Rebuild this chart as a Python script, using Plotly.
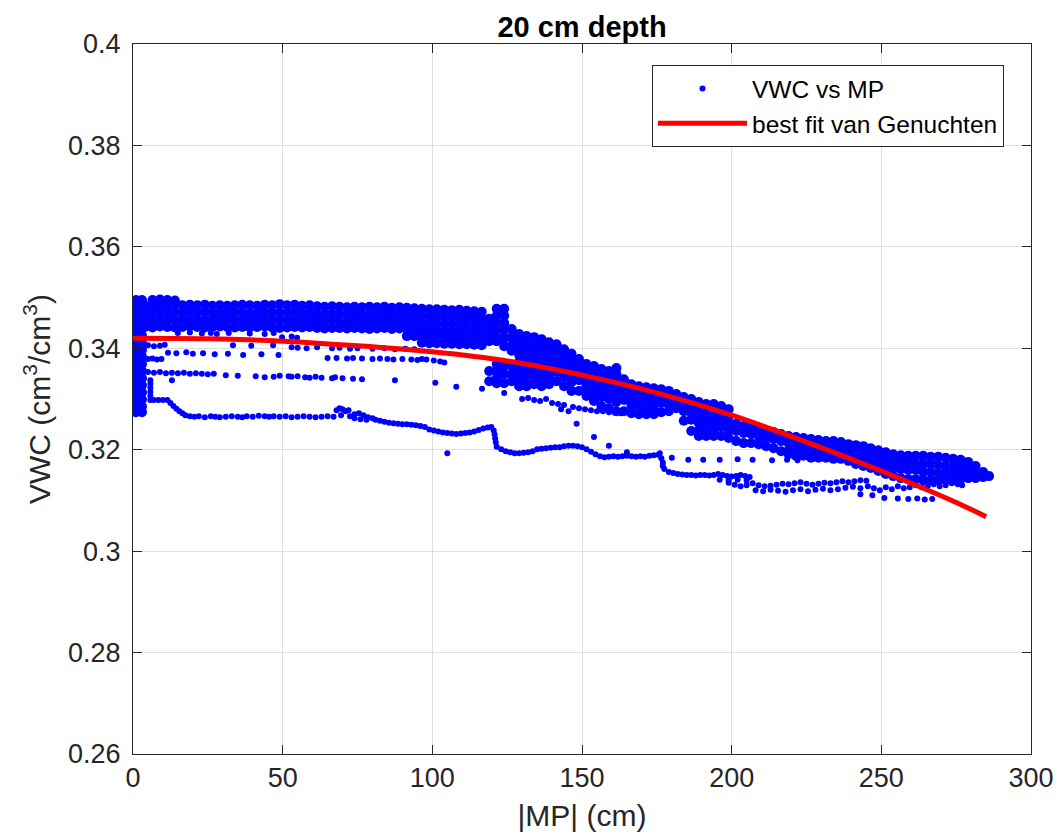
import plotly.graph_objects as go

# ---------------- data ----------------
# fitted van Genuchten curve (x = |MP| cm, y = VWC)
fit_x = [0, 25, 50, 75, 100, 125, 150, 175, 200, 225, 250, 275, 285]
fit_y = [0.3420, 0.3419, 0.3414, 0.3405, 0.3393, 0.3375, 0.3347, 0.3312,
         0.3268, 0.3215, 0.3158, 0.3096, 0.3068]

# dense clusters of measurements: (MP, [VWC values at that MP])
bar_cols = [
    (1, [0.3495, 0.3481, 0.3467, 0.3453, 0.3439, 0.3425, 0.3411, 0.3397, 0.3383,
         0.3369, 0.3355, 0.3341, 0.3327, 0.3313, 0.3299, 0.3285, 0.3274]),
    (3, [0.3495, 0.3481, 0.3467, 0.3453, 0.3439, 0.3425, 0.3411, 0.3397, 0.3383,
         0.3369, 0.3355, 0.3341, 0.3327, 0.3313, 0.3299, 0.3285, 0.3274]),
]
top_cols = [
    (6.5, [0.3495]), (9, [0.3496]), (11.5, [0.3495]), (14, [0.3494]),
]
band_cols = [
    (4, [0.3484, 0.3470, 0.3456, 0.3442]),
    (6.5, [0.3483, 0.3469, 0.3455, 0.3441]),
    (9, [0.3485, 0.3471, 0.3456, 0.3443]),
    (11.5, [0.3484, 0.3470, 0.3457, 0.3442]),
    (14, [0.3486, 0.3471, 0.3456, 0.3441]),
    (16.5, [0.3485, 0.3470, 0.3455, 0.3442]),
    (19, [0.3486, 0.3472, 0.3457, 0.3443]),
    (21.5, [0.3485, 0.3470, 0.3456, 0.3442]),
    (24, [0.3486, 0.3471, 0.3455, 0.3441]),
    (26.5, [0.3484, 0.3469, 0.3456, 0.3442]),
    (29, [0.3485, 0.3470, 0.3456, 0.3443]),
    (31.5, [0.3484, 0.3471, 0.3457, 0.3442]),
    (34, [0.3485, 0.3470, 0.3455, 0.3441]),
    (36.5, [0.3486, 0.3471, 0.3456, 0.3442]),
    (39, [0.3485, 0.3469, 0.3455, 0.3441]),
    (41.5, [0.3484, 0.3470, 0.3456, 0.3442]),
    (44, [0.3486, 0.3471, 0.3457, 0.3443]),
    (46.5, [0.3485, 0.3470, 0.3455, 0.3441]),
    (49, [0.3487, 0.3471, 0.3456, 0.3440]),
    (51.5, [0.3485, 0.3470, 0.3455, 0.3441]),
    (54, [0.3486, 0.3471, 0.3456, 0.3442]),
    (56.5, [0.3484, 0.3469, 0.3455, 0.3441]),
    (59, [0.3485, 0.3470, 0.3456, 0.3442]),
    (61.5, [0.3483, 0.3468, 0.3454, 0.3440]),
    (64, [0.3482, 0.3467, 0.3453, 0.3439]),
    (66.5, [0.3483, 0.3468, 0.3454, 0.3440]),
    (69, [0.3482, 0.3467, 0.3453, 0.3440]),
    (71.5, [0.3481, 0.3467, 0.3452, 0.3439]),
    (74, [0.3482, 0.3468, 0.3454, 0.3440]),
    (76.5, [0.3481, 0.3466, 0.3453, 0.3439]),
    (79, [0.3482, 0.3467, 0.3452, 0.3438]),
    (81.5, [0.3481, 0.3467, 0.3453, 0.3439]),
    (84, [0.3482, 0.3468, 0.3454, 0.3440]),
    (86.5, [0.3480, 0.3466, 0.3452, 0.3438]),
    (89, [0.3481, 0.3467, 0.3453, 0.3439]),
    (91.5, [0.3480, 0.3466, 0.3452, 0.3438, 0.3424]),
    (94, [0.3479, 0.3465, 0.3451, 0.3437, 0.3424]),
    (96.5, [0.3478, 0.3464, 0.3450, 0.3436, 0.3423, 0.3411]),
    (99, [0.3477, 0.3463, 0.3449, 0.3436, 0.3423, 0.3410]),
    (101.5, [0.3477, 0.3463, 0.3449, 0.3435, 0.3422, 0.3410]),
    (104, [0.3476, 0.3462, 0.3448, 0.3435, 0.3422, 0.3409]),
    (106.5, [0.3475, 0.3462, 0.3448, 0.3434, 0.3421, 0.3409]),
    (109, [0.3476, 0.3461, 0.3447, 0.3434, 0.3421, 0.3408]),
    (111.5, [0.3474, 0.3461, 0.3447, 0.3433, 0.3420, 0.3408]),
    (114, [0.3473, 0.3460, 0.3446, 0.3433, 0.3420, 0.3407]),
    (116.5, [0.3472, 0.3459, 0.3446, 0.3432, 0.3419, 0.3406]),
]
cloud_cols = [
    (119, [0.3458, 0.3444, 0.3430, 0.3414, 0.3355, 0.3335]),
    (121.5, [0.3478, 0.3464, 0.3450, 0.3436, 0.3422, 0.3414, 0.3369, 0.3355, 0.3341, 0.3331]),
    (124, [0.3478, 0.3464, 0.3450, 0.3436, 0.3420, 0.3404, 0.3365, 0.3349, 0.3331]),
    (126.5, [0.3438, 0.3422, 0.3406, 0.3395, 0.3365, 0.3349, 0.3335]),
    (129, [0.3428, 0.3414, 0.3400, 0.3387, 0.3373, 0.3359, 0.3345, 0.3331, 0.3325]),
    (131.5, [0.3424, 0.3410, 0.3397, 0.3383, 0.3369, 0.3355, 0.3341, 0.3325]),
    (134, [0.3422, 0.3408, 0.3395, 0.3381, 0.3367, 0.3353, 0.3339, 0.3329]),
    (136.5, [0.3418, 0.3404, 0.3391, 0.3377, 0.3363, 0.3349, 0.3335, 0.3325]),
    (139, [0.3412, 0.3398, 0.3385, 0.3371, 0.3357, 0.3343, 0.3329]),
    (141.5, [0.3408, 0.3395, 0.3381, 0.3367, 0.3353, 0.3335]),
    (144, [0.3398, 0.3385, 0.3371, 0.3357, 0.3343, 0.3325]),
    (146.5, [0.3389, 0.3375, 0.3361, 0.3347, 0.3333, 0.3316]),
    (149, [0.3379, 0.3365, 0.3351, 0.3337, 0.3316]),
    (151.5, [0.3369, 0.3355, 0.3341, 0.3327, 0.3314, 0.3306]),
    (154, [0.3365, 0.3351, 0.3337, 0.3323, 0.3310, 0.3296]),
    (156.5, [0.3359, 0.3345, 0.3331, 0.3318, 0.3304, 0.3286]),
    (159, [0.3355, 0.3341, 0.3327, 0.3314, 0.3300, 0.3282]),
    (161.5, [0.3361, 0.3349, 0.3335, 0.3321, 0.3308, 0.3294, 0.3276]),
    (164, [0.3339, 0.3325, 0.3312, 0.3298, 0.3276]),
    (166.5, [0.3329, 0.3316, 0.3302, 0.3288, 0.3272]),
    (169, [0.3325, 0.3312, 0.3298, 0.3284, 0.3270]),
    (171.5, [0.3323, 0.3310, 0.3296, 0.3282, 0.3270]),
    (174, [0.3321, 0.3308, 0.3294, 0.3280, 0.3270]),
    (176.5, [0.3319, 0.3306, 0.3292, 0.3274]),
    (179, [0.3316, 0.3302, 0.3288, 0.3276]),
    (181.5, [0.3310, 0.3296, 0.3282]),
    (184, [0.3304, 0.3290, 0.3276, 0.3257]),
    (186.5, [0.3300, 0.3286, 0.3272, 0.3259, 0.3237]),
    (189, [0.3294, 0.3280, 0.3266, 0.3253, 0.3239, 0.3227]),
    (191.5, [0.3290, 0.3276, 0.3262, 0.3249, 0.3235, 0.3227]),
    (194, [0.3290, 0.3276, 0.3262, 0.3249, 0.3235, 0.3227]),
    (196.5, [0.3286, 0.3272, 0.3259, 0.3245, 0.3227]),
    (199, [0.3280, 0.3266, 0.3253, 0.3239, 0.3223]),
]
right_cols = [
    (201.5, [0.3251, 0.3237, 0.3217]),
    (204, [0.3247, 0.3233, 0.3213]),
    (206.5, [0.3245, 0.3231, 0.3213]),
    (209, [0.3241, 0.3227, 0.3211]),
    (211.5, [0.3237, 0.3223, 0.3207]),
    (214, [0.3235, 0.3221, 0.3203]),
    (216.5, [0.3231, 0.3217, 0.3197]),
    (219, [0.3227, 0.3213, 0.3199, 0.3191]),
    (221.5, [0.3225, 0.3211, 0.3197, 0.3188]),
    (224, [0.3223, 0.3209, 0.3195, 0.3188]),
    (226.5, [0.3221, 0.3207, 0.3193, 0.3184]),
    (229, [0.3219, 0.3205, 0.3191, 0.3184]),
    (231.5, [0.3217, 0.3203, 0.3189, 0.3184]),
    (234, [0.3217, 0.3203, 0.3189, 0.3182]),
    (236.5, [0.3215, 0.3201, 0.3188, 0.3182]),
    (239, [0.3211, 0.3197, 0.3184, 0.3178]),
    (241.5, [0.3209, 0.3195, 0.3182, 0.3172]),
    (244, [0.3207, 0.3193, 0.3180, 0.3168]),
    (246.5, [0.3203, 0.3189, 0.3176, 0.3164]),
    (249, [0.3199, 0.3186, 0.3172, 0.3158]),
    (251.5, [0.3195, 0.3182, 0.3168, 0.3152]),
    (254, [0.3191, 0.3178, 0.3164, 0.3148]),
    (256.5, [0.3189, 0.3176, 0.3162, 0.3144]),
    (259, [0.3188, 0.3174, 0.3160, 0.3142]),
    (261.5, [0.3188, 0.3174, 0.3160, 0.3142]),
    (264, [0.3188, 0.3172, 0.3156, 0.3140]),
    (266.5, [0.3186, 0.3172, 0.3156, 0.3140]),
    (269, [0.3186, 0.3170, 0.3154, 0.3140]),
    (271.5, [0.3184, 0.3168, 0.3154, 0.3140]),
    (274, [0.3182, 0.3168, 0.3154, 0.3140]),
    (276.5, [0.3180, 0.3166, 0.3152, 0.3142]),
    (279, [0.3176, 0.3160, 0.3144]),
    (281.5, [0.3168, 0.3152, 0.3144]),
    (284, [0.3156, 0.3146]),
    (286, [0.3148]),
]

# sparse rows of single measurements: (MP, VWC)
row_343 = [(15, 0.3430), (19, 0.3431), (23, 0.3429), (26, 0.3430), (28, 0.3428),
           (32, 0.3430), (39, 0.3429), (44, 0.3428), (47, 0.3430), (49.8, 0.3422),
           (53, 0.3423), (54.8, 0.3421)]
row_340 = [(5, 0.3406), (7, 0.3404), (9, 0.3405), (10.6, 0.3407), (11.7, 0.3391),
           (14.5, 0.3390), (17.8, 0.3392), (20, 0.3389), (23.4, 0.3390), (27.3, 0.3388),
           (31.7, 0.3389), (36.8, 0.3387), (42.9, 0.3388), (33.4, 0.3406), (39.5, 0.3405),
           (46.8, 0.3406), (48.6, 0.3387), (53, 0.3402), (55, 0.3401), (58, 0.3400),
           (61.5, 0.3402), (66.5, 0.3400), (69, 0.3401), (72.5, 0.3399), (75, 0.3400),
           (80, 0.3399), (84, 0.3400), (87.5, 0.3398), (91, 0.3399), (94, 0.3398)]
row_338 = [(5, 0.3379), (6.5, 0.3380), (8, 0.3378), (9.5, 0.3379),
           (65, 0.3381), (68, 0.3381), (71.5, 0.3380), (73.5, 0.3381), (76.5, 0.3380),
           (80, 0.3379), (82.5, 0.3380), (85, 0.3379), (87, 0.3378), (90, 0.3379),
           (93, 0.3378), (95, 0.3377), (96.5, 0.3379), (98, 0.3378), (100.5, 0.3376),
           (102.6, 0.3374), (104, 0.3372)]
row_335 = [(5, 0.3353), (7, 0.3352), (9, 0.3353), (11, 0.3351), (13, 0.3352),
           (13, 0.3337), (15, 0.3351), (17, 0.3352), (19, 0.3350), (21, 0.3351),
           (23, 0.3350), (25, 0.3349), (27, 0.3350), (31, 0.3347), (35, 0.3346),
           (41, 0.3345), (44, 0.3343), (47, 0.3344), (49, 0.3346), (52, 0.3345),
           (53, 0.3344), (55, 0.3345), (57.5, 0.3343), (59, 0.3342), (61, 0.3344),
           (63, 0.3342), (66.5, 0.3341), (67.5, 0.3343), (70, 0.3341), (73.5, 0.3340),
           (76.5, 0.3339), (87.5, 0.3337)]
isolated = [(101, 0.3332), (108, 0.3324), (116.6, 0.3320), (124, 0.3312),
            (105, 0.3193), (148.2, 0.3251), (154, 0.3225), (159, 0.3208), (165, 0.3195)]
track_mid = [(130, 0.3300), (132, 0.3302), (134, 0.3298), (136, 0.3296), (138, 0.3300),
             (140, 0.3292), (142, 0.3290), (143, 0.3280), (144, 0.3288), (145.5, 0.3276),
             (147, 0.3284), (149, 0.3282), (151, 0.3280), (153, 0.3278), (155, 0.3276),
             (157, 0.3276), (159, 0.3274), (161, 0.3273), (163, 0.3272)]
track_low = [
    (5.8, 0.3337), (5.8, 0.3330), (5.8, 0.3322), (5.8, 0.3314), (5.8, 0.3306), (5.8, 0.3298),
    (7, 0.3298), (8.5, 0.3298), (10, 0.3298), (11.5, 0.3298),
    (12.5, 0.3292), (13.5, 0.3286), (14.5, 0.3281), (15.5, 0.3276), (16.5, 0.3272), (17.5, 0.3268),
    (19, 0.3266), (20.5, 0.3265), (22, 0.3266), (24, 0.3264), (26, 0.3266), (27.5, 0.3265),
    (29, 0.3264), (31, 0.3265), (33, 0.3266), (35, 0.3265), (36.5, 0.3264), (38, 0.3266),
    (40, 0.3265), (42, 0.3267), (44, 0.3266), (45.5, 0.3265), (47, 0.3266),
    (49, 0.3265), (51, 0.3266), (53, 0.3264), (55, 0.3265), (57, 0.3266), (59, 0.3265),
    (61, 0.3264), (63, 0.3265), (65, 0.3266), (67, 0.3265),
    (68, 0.3278), (69, 0.3282), (70, 0.3280), (71, 0.3276), (72, 0.3278), (69.5, 0.3268),
    (72.5, 0.3266), (74, 0.3270), (75.5, 0.3272), (77, 0.3268), (78.5, 0.3264), (80, 0.3262),
    (74, 0.3262), (76, 0.3260), (78, 0.3259), (81, 0.3259),
    (82.5, 0.3257), (84, 0.3255), (85.5, 0.3253), (87, 0.3252), (88.5, 0.3251), (90, 0.3250),
    (91.5, 0.3250), (93, 0.3249), (94.5, 0.3248), (96, 0.3247), (97.5, 0.3245),
    (99, 0.3240), (100.5, 0.3238), (102, 0.3236), (103.5, 0.3234), (105, 0.3233),
    (106.5, 0.3232), (108, 0.3231), (109.5, 0.3232), (111, 0.3233), (112.5, 0.3234),
    (114, 0.3236), (115.5, 0.3239), (117, 0.3242), (118.5, 0.3244), (119.7, 0.3245),
    (120.5, 0.3238), (120.8, 0.3230), (121, 0.3222), (121.2, 0.3214), (121.5, 0.3206),
    (123, 0.3201), (124.5, 0.3197), (126, 0.3195), (127.5, 0.3193), (129, 0.3193),
    (130.5, 0.3194), (132, 0.3195), (133.5, 0.3197),
    (135, 0.3201), (136.5, 0.3202), (138, 0.3203), (139.5, 0.3204), (141, 0.3205),
    (142.5, 0.3205), (144, 0.3207), (145.5, 0.3208), (147, 0.3208), (148.5, 0.3207), (150, 0.3205),
    (151.5, 0.3201), (153, 0.3196), (154.5, 0.3191), (156, 0.3187), (157.5, 0.3185),
    (159, 0.3186), (160.5, 0.3187), (162, 0.3186), (163.5, 0.3187), (165, 0.3188),
    (166.5, 0.3187), (168, 0.3186), (169.5, 0.3187), (171, 0.3186), (172.5, 0.3188),
    (174, 0.3189), (175.5, 0.3190),
    (176, 0.3193), (176.5, 0.3183), (177, 0.3175), (177, 0.3168), (177.5, 0.3162),
    (179, 0.3156), (180.5, 0.3154), (182, 0.3152), (183.5, 0.3151), (185, 0.3150),
    (186.5, 0.3150), (188, 0.3149), (189.5, 0.3150), (191, 0.3150), (192.5, 0.3149), (194, 0.3150),
    (195.5, 0.3152), (197, 0.3150), (198.5, 0.3148), (200, 0.3147), (201.5, 0.3148),
    (203, 0.3150), (204.5, 0.3148), (206, 0.3146),
    (196, 0.3141), (199, 0.3140), (202, 0.3141), (205, 0.3139),
]
row_318 = [(180, 0.3184), (185.5, 0.3180), (190.5, 0.3180), (196, 0.3180), (202, 0.3181),
           (207, 0.3180), (213.5, 0.3179), (218.5, 0.3180), (222, 0.3179)]
low_right = [
    (199, 0.3135), (201, 0.3131), (203, 0.3128), (205, 0.3130),
    (207, 0.3134), (209, 0.3130), (211, 0.3128), (213, 0.3129), (215, 0.3131), (217, 0.3133),
    (219, 0.3132), (221, 0.3134), (223, 0.3136), (225, 0.3133), (227, 0.3131), (229, 0.3133),
    (231, 0.3135), (233, 0.3134), (235, 0.3136), (237, 0.3138), (239, 0.3136), (241, 0.3138),
    (243, 0.3140), (245, 0.3139),
    (208, 0.3120), (210.5, 0.3118), (213, 0.3121), (215.5, 0.3119), (218, 0.3117),
    (220.5, 0.3120), (223, 0.3122), (225.5, 0.3118), (228, 0.3121), (230.5, 0.3123),
    (233, 0.3120), (235.5, 0.3122), (238, 0.3125), (240.5, 0.3127), (243, 0.3124),
    (245.5, 0.3128), (247.5, 0.3124), (249.5, 0.3120), (251.5, 0.3126), (253.5, 0.3122),
    (255.5, 0.3128), (257.5, 0.3124), (259.5, 0.3126), (261.5, 0.3130), (263.5, 0.3126),
    (265.5, 0.3128), (267.5, 0.3132), (269.5, 0.3128), (271.5, 0.3130), (273.5, 0.3134),
    (275.5, 0.3132), (277, 0.3130),
    (243, 0.3112), (247, 0.3110), (251, 0.3105), (255.5, 0.3104), (259, 0.3103),
    (262, 0.3104), (264.5, 0.3102), (267, 0.3103),
]

x_ticks = [0, 50, 100, 150, 200, 250, 300]
y_ticks = [0.26, 0.28, 0.30, 0.32, 0.34, 0.36, 0.38, 0.40]
y_tick_text = ["0.26", "0.28", "0.3", "0.32", "0.34", "0.36", "0.38", "0.4"]

# ---------------- build ----------------
dense = bar_cols + top_cols + band_cols + cloud_cols + right_cols
dense_x = [c[0] for c in dense for _ in c[1]]
dense_y = [v for c in dense for v in c[1]]
sparse = row_343 + row_340 + row_338 + row_335 + isolated + track_mid + track_low + row_318 + low_right
sparse_x = [p[0] for p in sparse]
sparse_y = [p[1] for p in sparse]

BLUE = "#0000ff"
AX = "#262626"
FONT = "Liberation Sans, Arial, Helvetica, sans-serif"

fig = go.Figure()
fig.add_trace(go.Scatter(x=sparse_x, y=sparse_y, mode="markers", name="VWC vs MP",
                         marker=dict(color=BLUE, size=6, line=dict(width=0))))
fig.add_trace(go.Scatter(x=dense_x, y=dense_y, mode="markers", showlegend=False,
                         marker=dict(color=BLUE, size=10, line=dict(width=0))))
fig.add_trace(go.Scatter(x=fit_x, y=fit_y, mode="lines", name="best fit van Genuchten",
                         line=dict(color="#ff0000", width=5, shape="spline")))

axis_common = dict(showline=True, linecolor=AX, linewidth=1, mirror="ticks",
                   ticks="inside", ticklen=9, tickcolor=AX, tickwidth=1,
                   showgrid=True, gridcolor="#dfdfdf", gridwidth=1, zeroline=False,
                   automargin=False,
                   tickfont=dict(size=27, color=AX, family=FONT))

fig.update_layout(
    width=1057, height=839,
    margin=dict(l=133, r=26, t=44, b=85),
    paper_bgcolor="white", plot_bgcolor="white",
    font=dict(family=FONT, color=AX),
    title=dict(text="<b>20 cm depth</b>", x=0.5, xref="paper", xanchor="center",
               y=1 - 27 / 839, yref="container", yanchor="middle",
               font=dict(size=29, color="black", family=FONT)),
    xaxis=dict(range=[0, 300], tickvals=x_ticks, **axis_common,
               title=dict(text="|MP| (cm)", font=dict(size=30, color=AX, family=FONT), standoff=12)),
    yaxis=dict(range=[0.26, 0.40], tickvals=y_ticks, ticktext=y_tick_text, **axis_common,
               ticklabelstandoff=6,
               title=dict(text="VWC (cm<sup>3</sup>/cm<sup>3</sup>)",
                          font=dict(size=30, color=AX, family=FONT), standoff=8)),
    legend=dict(x=(652 - 133) / 898, y=(754 - 65) / 710, xanchor="left", yanchor="top",
                bgcolor="white", bordercolor=AX, borderwidth=1,
                font=dict(size=24.5, color="black", family=FONT),
                itemwidth=89, tracegroupgap=0),
)

fig.write_html("out.html")
